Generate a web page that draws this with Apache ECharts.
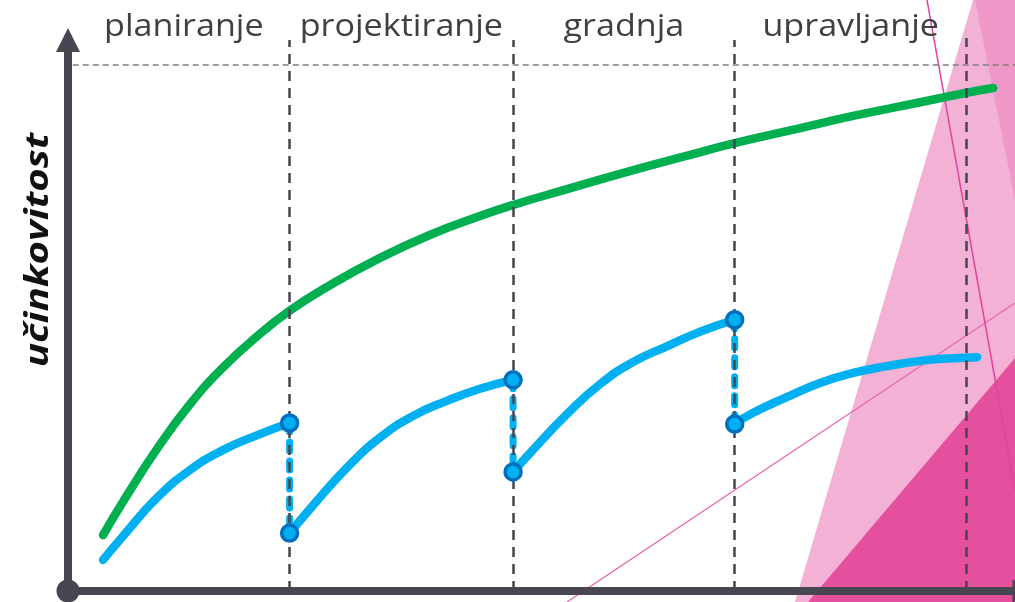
<!DOCTYPE html>
<html><head><meta charset="utf-8">
<script src="https://cdn.jsdelivr.net/npm/echarts@6/dist/echarts.min.js"></script>
<style>html,body{margin:0;padding:0;background:#fff}#c{width:1015px;height:602px}</style>
</head><body><div id="c"></div><script>
// ---- data (x: time 0..100, y: effectiveness, 100 = target level) ----
const phases = ['planiranje', 'projektiranje', 'gradnja', 'upravljanje'];
const phaseEdges = [0, 23.4, 47.0, 70.4, 94.9];
const targetLevel = 100;
const yTitle = 'učinkovitost';
const greenCurve = [[3.7,10.6],[6.0,17.5],[9.4,27.0],[12.9,35.5],[16.4,42.5],[20.0,48.4],[23.4,53.2],[27.7,58.1],[32.9,63.2],[38.2,67.6],[43.5,71.2],[47.0,73.3],[52.7,76.3],[59.7,79.9],[66.7,83.3],[70.5,85.1],[75.9,87.3],[82.9,90.2],[90.0,92.8],[94.9,94.6],[97.7,95.5]];
const blueStage1 = [[3.7,5.9],[5.8,10.4],[9.4,17.7],[12.9,23.0],[16.4,26.8],[20.0,29.6],[23.4,31.9]];
const blueStage2 = [[23.4,11.0],[25.9,16.3],[29.5,23.5],[33.0,29.2],[36.4,33.2],[40.0,36.1],[43.5,38.4],[47.0,40.1]];
const blueStage3 = [[47.0,22.6],[49.1,26.8],[52.7,33.6],[56.2,39.3],[59.7,43.5],[63.3,46.5],[66.7,49.2],[70.4,51.5]];
const blueStage4 = [[70.4,31.7],[72.3,33.8],[75.9,36.8],[79.4,39.5],[82.9,41.4],[86.5,42.7],[90.0,43.7],[93.5,44.2],[96.0,44.4]];
const blueStages = [blueStage1, blueStage2, blueStage3, blueStage4];

// ---- styles ----
const AXIS = '#474651', GREEN = '#00b050', BLUE = '#00b0f0', BLUE_DARK = '#0070c0';

const drops = [];
for (let i = 0; i < blueStages.length - 1; i++) {
  const a = blueStages[i][blueStages[i].length - 1];
  const b = blueStages[i + 1][0];
  drops.push([a, b]);
}
const markers = [];
drops.forEach(d => { markers.push(d[0], d[1]); });

const series = [];
// guide lines
series.push({
  type: 'line', data: [], z: 1, silent: true,
  markLine: {
    silent: true, symbol: 'none', animation: false, label: {show: false},
    data: phaseEdges.slice(1).map((x, i) => [
      {coord: [x, 0], lineStyle: {color: '#474651', width: 2.5, type: [10, 7]}},
      {coord: [x, i === 3 ? 105 : 104.6]}
    ]).concat([[
      {coord: [0.5, targetLevel], lineStyle: {color: '#7f7f7f', width: 1.5, type: [6, 4]}},
      {coord: [100, targetLevel]}
    ]])
  }
});
series.push({
  type: 'line', data: greenCurve, smooth: 0.5, showSymbol: false, z: 3,
  lineStyle: {color: GREEN, width: 8.5, cap: 'round', join: 'round'}
});
blueStages.forEach(s => series.push({
  type: 'line', data: s, smooth: 0.5, showSymbol: false, z: 3,
  lineStyle: {color: BLUE, width: 8.5, cap: 'round', join: 'round'}
}));
drops.forEach(d => series.push({
  type: 'line', data: d, showSymbol: false, z: 4,
  lineStyle: {color: BLUE, width: 7, type: [9, 10], cap: 'round'}
}));
series.push({
  type: 'scatter', data: markers, symbol: 'circle', symbolSize: 16, z: 5,
  itemStyle: {color: BLUE, borderColor: BLUE_DARK, borderWidth: 3.5, opacity: 1}
});

const option = {
  animation: false,
  backgroundColor: '#fff',
  grid: {left: 68, right: 0, top: 38, bottom: 11, containLabel: false},
  xAxis: {
    type: 'value', min: 0, max: 100,
    axisLine: {show: true, onZero: false, symbol: ['circle', 'triangle'], symbolSize: [23, 23], symbolOffset: [0, 9],
      lineStyle: {color: AXIS, width: 8}},
    axisTick: {show: false}, axisLabel: {show: false}, splitLine: {show: false}
  },
  yAxis: {
    type: 'value', min: 0, max: 105,
    axisLine: {show: true, onZero: false, symbol: ['none', 'triangle'], symbolSize: [24, 24], symbolOffset: [0, -2],
      lineStyle: {color: AXIS, width: 8}},
    axisTick: {show: false}, axisLabel: {show: false}, splitLine: {show: false}
  },
  series: series
};

const chart = echarts.init(document.getElementById('c'), null, {renderer: 'canvas'});
chart.setOption(option);

// decorative background shapes + texts
const W = 1015, H = 602;
const elements = [
  {type: 'polygon', z: -5, shape: {points: [[795, H], [973, 0], [W, 0], [W, H]]}, style: {fill: '#f3b1d6'}},
  {type: 'polygon', z: -4, shape: {points: [[975, 0], [W, 0], [W, 200]]}, style: {fill: '#ef98c8'}},
  {type: 'polygon', z: -3, shape: {points: [[808, H], [W, 358], [W, H]]}, style: {fill: '#e4509e'}},
  {type: 'line', z: -2, shape: {x1: 567, y1: H, x2: W, y2: 303}, style: {stroke: '#e868ad', lineWidth: 1.3}},
  {type: 'line', z: -2, shape: {x1: 927, y1: 0, x2: W, y2: 490}, style: {stroke: '#e0449c', lineWidth: 1.5}}
];
phases.forEach((p, i) => {
  const mid = (phaseEdges[i] + phaseEdges[i + 1]) / 2;
  const px = chart.convertToPixel({gridIndex: 0}, [mid, 0])[0];
  elements.push({type: 'text', z: 10, x: px + (i === 0 ? 5 : 0), y: 27, scaleX: 1.1,
    style: {text: p, font: '31px "Open Sans"', fill: '#404040', align: 'center', verticalAlign: 'middle'}});
});
elements.push({type: 'text', z: 10, x: 39, y: 250, rotation: Math.PI / 2, scaleX: 1.22,
  style: {text: yTitle, font: 'italic bold 33px "Open Sans"', fill: '#111111', align: 'center', verticalAlign: 'middle'}});
chart.setOption({graphic: {elements: elements}});
</script></body></html>
